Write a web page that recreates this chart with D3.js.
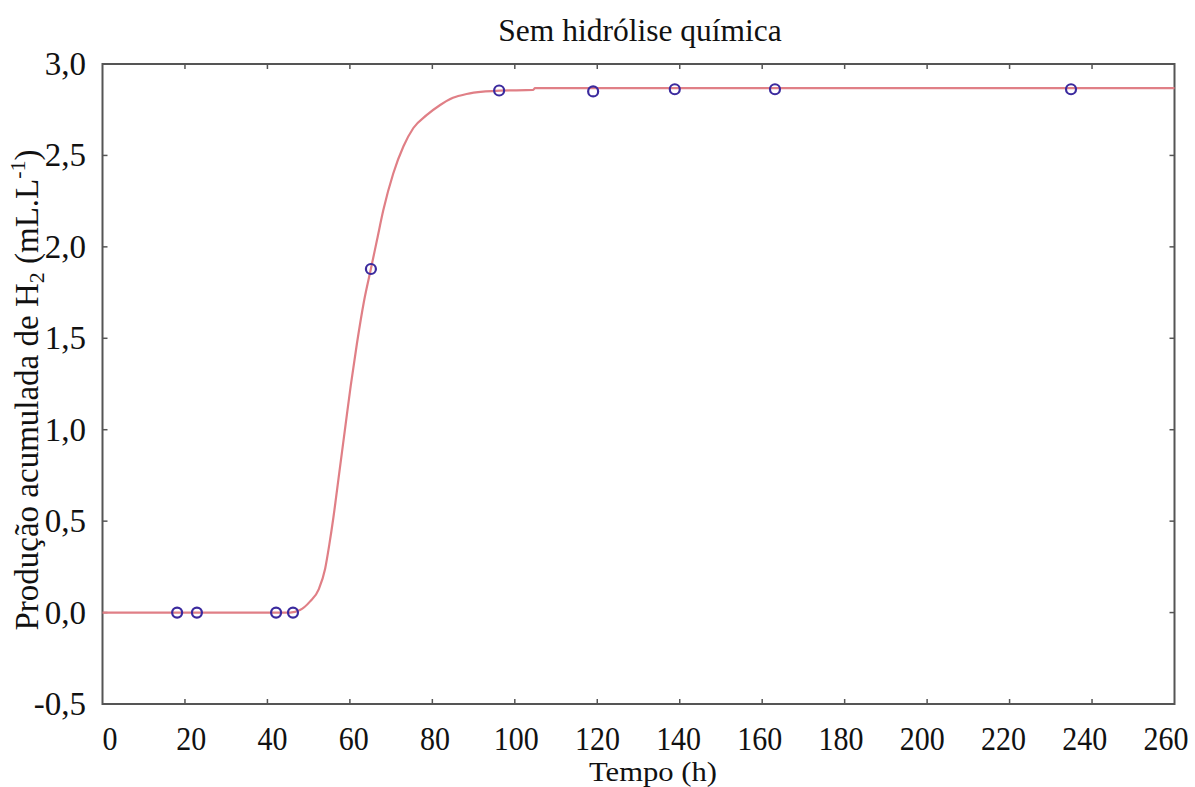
<!DOCTYPE html>
<html><head><meta charset="utf-8">
<script src="https://cdn.jsdelivr.net/npm/d3@7"></script>
<style>body{margin:0;background:#fff}svg{display:block}</style>
</head><body><svg id="c" width="1195" height="787"></svg>
<script>
// Observed data points (time h, cumulative H2)
const obsTime = [18.1, 22.9, 42.1, 46.2, 65.1, 96.2, 119.0, 138.8, 163.1, 234.9];
const obsH2   = [0.0, 0.0, 0.0, 0.0, 1.879, 2.855, 2.85, 2.862, 2.862, 2.862];
// Fitted curve
const fitTime = [0, 45.5, 47.9, 50.3, 52.5, 54.0, 55.0, 56.0, 57.4, 58.8, 60.2, 61.7, 63.4, 65.1, 66.6, 68.1, 70.5, 73.0, 75.4, 78.6, 81.9, 85.0, 88.3, 92.3, 96.4, 104.4, 104.9, 260];
const fitH2   = [0, 0, 0.014, 0.06, 0.13, 0.24, 0.37, 0.52, 0.76, 1.0, 1.24, 1.47, 1.70, 1.88, 2.04, 2.20, 2.40, 2.55, 2.65, 2.72, 2.776, 2.815, 2.836, 2.849, 2.854, 2.858, 2.868, 2.868];
const xTicks = [0,20,40,60,80,100,120,140,160,180,200,220,240,260];
const yTicks = [-0.5,0,0.5,1.0,1.5,2.0,2.5,3.0];
const titleText = "Sem hidrólise química";
const xTitle = "Tempo (h)";

const FONT = "Times New Roman, Times, Liberation Serif, Tinos, DejaVu Serif, serif";
const svg = d3.select("#c").style("font-family", FONT);
const L=102.5, R=1174.5, T=64, B=704;
const x = d3.scaleLinear().domain([0,260]).range([L,R]);
const y = d3.scaleLinear().domain([-0.5,3.0]).range([B,T]);
const xLab = d3.scaleLinear().domain([0,260]).range([110,1166]);
const fmt = d => d.toFixed(1).replace(".", ",");

// frame
svg.append("rect").attr("x",L).attr("y",T).attr("width",R-L).attr("height",B-T)
  .attr("fill","none").attr("stroke","#555").attr("stroke-width",2);
// inward ticks
const tl = 5;
const tk = svg.append("g").attr("stroke","#555").attr("stroke-width",1.5);
xTicks.slice(1,-1).forEach(t=>{
  tk.append("line").attr("x1",x(t)).attr("x2",x(t)).attr("y1",B).attr("y2",B-tl);
  tk.append("line").attr("x1",x(t)).attr("x2",x(t)).attr("y1",T).attr("y2",T+tl);
});
yTicks.slice(1,-1).forEach(t=>{
  tk.append("line").attr("x1",L).attr("x2",L+tl).attr("y1",y(t)).attr("y2",y(t));
  tk.append("line").attr("x1",R).attr("x2",R-tl).attr("y1",y(t)).attr("y2",y(t));
});
// labels
svg.append("g").selectAll("text").data(xTicks).join("text")
  .attr("transform",d=>`translate(${xLab(d)},750) scale(1,1.1)`).attr("text-anchor","middle")
  .attr("font-size",30).attr("fill","#111").text(d=>d);
svg.append("g").selectAll("text").data(yTicks).join("text")
  .attr("x",86).attr("y",d=>y(d)+11).attr("text-anchor","end")
  .attr("font-size",33).attr("fill","#111").text(fmt);

svg.append("text").attr("x",640).attr("y",41).attr("text-anchor","middle").attr("font-size",31.5).attr("fill","#111").text(titleText);
svg.append("text").attr("x",653).attr("y",781).attr("text-anchor","middle").attr("font-size",27)
  .attr("textLength",128).attr("lengthAdjust","spacingAndGlyphs").attr("fill","#111").text(xTitle);
const yt = svg.append("text").attr("transform","translate(38,390) rotate(-90)").attr("text-anchor","middle").attr("font-size",33).attr("fill","#111");
yt.append("tspan").text("Produção acumulada  de H");
yt.append("tspan").attr("font-size",22).attr("dy",6).text("2");
yt.append("tspan").attr("dy",-6).text(" (mL.L");
yt.append("tspan").attr("font-size",22).attr("dy",-13).text("-1");
yt.append("tspan").attr("dy",13).text(")");

// curve
const line = d3.line().x((d,i)=>x(fitTime[i])).y((d,i)=>y(fitH2[i])).curve(d3.curveMonotoneX);
svg.append("path").attr("d",line(fitTime)).attr("fill","none").attr("stroke","#e07f86").attr("stroke-width",2.2);
// markers
svg.append("g").selectAll("circle").data(obsTime).join("circle")
  .attr("cx",d=>x(d)).attr("cy",(d,i)=>y(obsH2[i])).attr("r",5)
  .attr("fill","none").attr("stroke","#3b2a9e").attr("stroke-width",2.2);
</script></body></html>
